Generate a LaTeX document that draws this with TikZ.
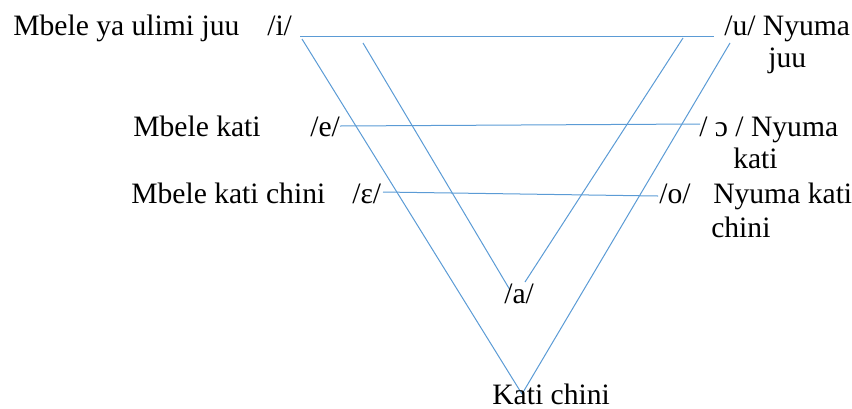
\documentclass[tikz,border=0pt]{standalone}
\usepackage{fontspec}
\setmainfont{Liberation Serif}
\definecolor{lineblue}{HTML}{5B9BD5}
\begin{document}
\begin{tikzpicture}[x=0.75pt,y=-0.75pt,
  lbl/.style={anchor=base west,inner sep=0pt,text depth=0pt,font=\fontsize{22.2}{26}\selectfont},
  ln/.style={draw=lineblue,line width=0.75pt}]
\useasboundingbox (0,0) rectangle (852,408);
% coordinates
\coordinate (tl) at (300,36);
\coordinate (tr) at (714,36);
\coordinate (ol) at (302,39);
\coordinate (il) at (363,43);
\coordinate (ia) at (510,290);
\coordinate (ir) at (683,38);
\coordinate (ib) at (525,282);
\coordinate (or) at (730,43);
\coordinate (bot) at (522,394);
\coordinate (el) at (340,126);
\coordinate (er) at (700,124);
\coordinate (epl) at (383,192);
\coordinate (epr) at (658,196);
% lines
\draw[ln] (tl) -- (tr);
\draw[ln] (ol) -- (bot);
\draw[ln] (or) -- (bot);
\draw[ln] (il) -- (ia);
\draw[ln] (ir) -- (ib);
\draw[ln] (el) -- (er);
\draw[ln] (epl) -- (epr);
% labels
\node[lbl] (t1) at (13,35) {Mbele ya ulimi juu};
\node[lbl] (t2) at (267,35) {/i/};
\node[lbl] (t3) at (724,35) {/u/ Nyuma};
\node[lbl] (t4) at (768,67) {juu};
\node[lbl] (t5) at (133,136) {Mbele kati};
\node[lbl] (t6) at (310,136) {/e/};
\node[lbl] (t7) at (699,136) {/ ɔ / Nyuma};
\node[lbl] (t8) at (733,168) {kati};
\node[lbl] (t9) at (131,203) {Mbele kati chini};
\node[lbl] (t10) at (352,203) {/ɛ/};
\node[lbl] (t11) at (659,203) {/o/};
\node[lbl] (t12) at (713,203) {Nyuma kati};
\node[lbl] (t13) at (711,237) {chini};
\node[lbl] (t14) at (504,303) {/a/};
\node[lbl] (t15) at (492,404) {Kati chini};
\end{tikzpicture}
\end{document}
